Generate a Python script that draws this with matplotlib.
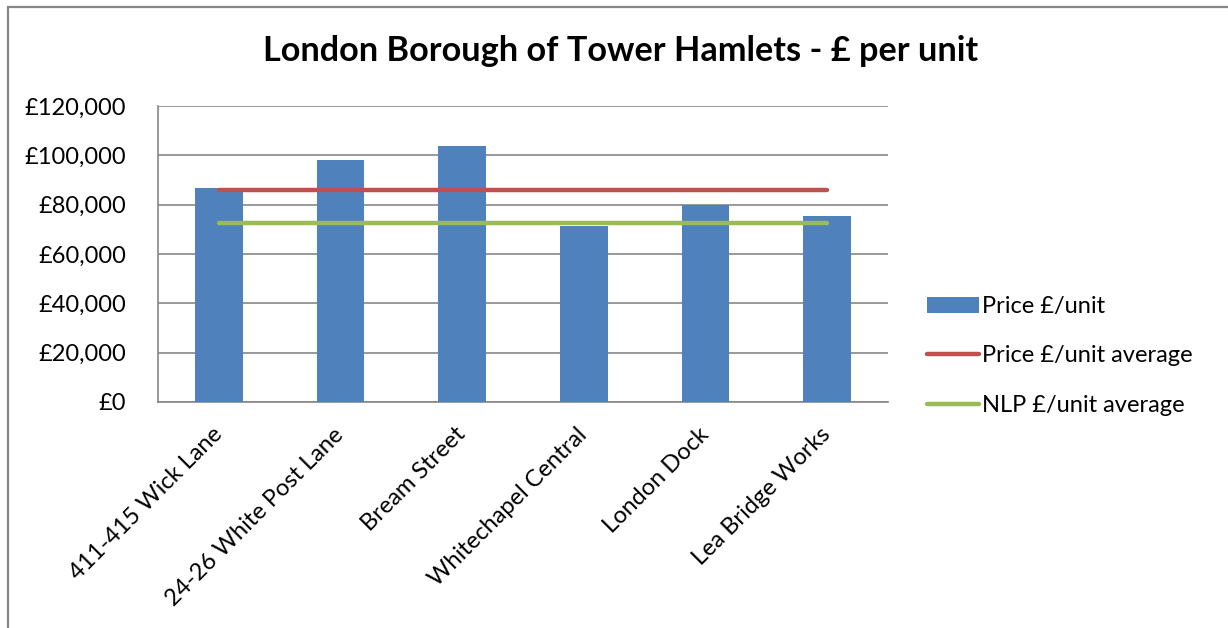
import matplotlib.pyplot as plt
import numpy as np
from matplotlib.patches import Rectangle
from matplotlib.ticker import FuncFormatter

plt.rcParams['font.family'] = ['Lato', 'DejaVu Sans']

# scheme names and price per unit
sites = ["411-415 Wick Lane", "24-26 White Post Lane", "Bream Street",
         "Whitechapel Central", "London Dock", "Lea Bridge Works"]
price_per_unit = [86600, 98100, 103900, 71400, 80000, 75400]
price_avg = 85900
nlp_avg = 72600
y_ticks = [0, 20000, 40000, 60000, 80000, 100000, 120000]

fig = plt.figure(figsize=(12.28, 6.28), dpi=100)
# outer chart frame (only top and left edges show)
fig.patches.append(Rectangle((8 / 1228, -0.1), 1.2, (628 - 7) / 628 + 0.1,
                             transform=fig.transFigure, fill=False,
                             edgecolor="#878787", linewidth=1.6))

ax = fig.add_axes([158 / 1228, (628 - 402) / 628, 730 / 1228, 296 / 628])
x = np.arange(len(sites))

bars = ax.bar(x, price_per_unit, width=0.39, color="#4f81bd",
              label="Price £/unit", zorder=3)
red, = ax.plot([x[0], x[-1]], [price_avg] * 2, color="#c0504d",
               linewidth=3.2, solid_capstyle="round",
               label="Price £/unit average", zorder=4)
green, = ax.plot([x[0], x[-1]], [nlp_avg] * 2, color="#9bbb59",
                 linewidth=3.2, solid_capstyle="round",
                 label="NLP £/unit average", zorder=4)

ax.set_xlim(-0.5, len(sites) - 0.5)
ax.set_ylim(0, 120000)
ax.set_yticks(y_ticks)
ax.yaxis.set_major_formatter(FuncFormatter(lambda v, p: "£{:,.0f}".format(v)))
ax.grid(axis="y", color="#878787", linewidth=1.2, zorder=0)
ax.set_xticks(x)
ax.set_xticklabels(sites, rotation=45, ha="right", va="center",
                   rotation_mode="anchor", fontsize=17)
ax.tick_params(axis="both", length=0, labelsize=17)
ax.tick_params(axis="x", pad=21)
ax.tick_params(axis="y", pad=23)
for s in ["top", "right"]:
    ax.spines[s].set_visible(False)
for s in ["left", "bottom"]:
    ax.spines[s].set_color("#878787")
    ax.spines[s].set_linewidth(1.2)

fig.text(0.505, 0.918, "London Borough of Tower Hamlets - £ per unit",
         ha="center", va="center", fontsize=24.7, fontweight="bold")

leg = fig.legend([bars, red, green],
                 ["Price £/unit", "Price £/unit average", "NLP £/unit average"],
                 loc="center left", bbox_to_anchor=(906 / 1228, 272 / 628),
                 frameon=False, fontsize=17, handlelength=2.2,
                 handleheight=0.7, handletextpad=0.1, labelspacing=1.2)

fig.savefig("out.png", dpi=100)
